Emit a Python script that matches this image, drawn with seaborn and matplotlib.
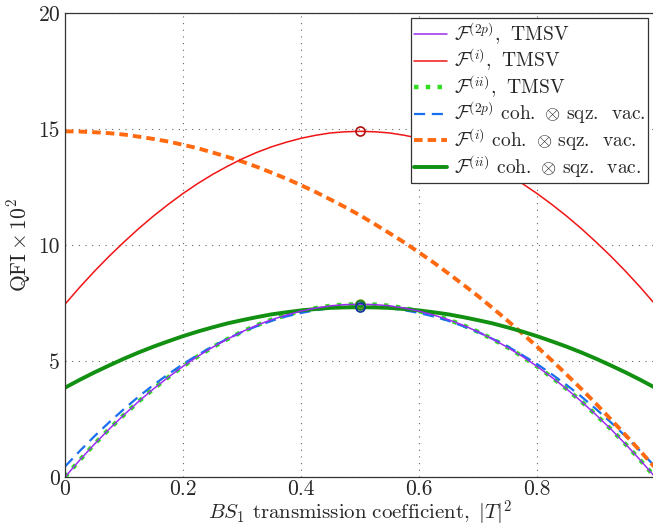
import matplotlib
matplotlib.use("Agg")
import matplotlib.pyplot as plt
import seaborn as sns
import pandas as pd
from matplotlib.lines import Line2D

# ---- data ----
T2 = [0.000, 0.025, 0.050, 0.075, 0.100, 0.125, 0.150, 0.175, 0.200, 0.225,
      0.250, 0.275, 0.300, 0.325, 0.350, 0.375, 0.400, 0.425, 0.450, 0.475,
      0.500, 0.525, 0.550, 0.575, 0.600, 0.625, 0.650, 0.675, 0.700, 0.725,
      0.750, 0.775, 0.800, 0.825, 0.850, 0.875, 0.900, 0.925, 0.950, 0.975, 1.000]
F2p_tmsv = [0.00, 0.73, 1.42, 2.07, 2.68, 3.26, 3.80, 4.30, 4.77, 5.20,
            5.59, 5.94, 6.26, 6.54, 6.78, 6.98, 7.15, 7.28, 7.38, 7.43,
            7.45, 7.43, 7.38, 7.28, 7.15, 6.98, 6.78, 6.54, 6.26, 5.94,
            5.59, 5.20, 4.77, 4.30, 3.80, 3.26, 2.68, 2.07, 1.42, 0.73, 0.00]
Fi_tmsv = [7.45, 8.18, 8.87, 9.52, 10.13, 10.71, 11.25, 11.75, 12.22, 12.65,
           13.04, 13.39, 13.71, 13.99, 14.23, 14.43, 14.60, 14.73, 14.83, 14.88,
           14.90, 14.88, 14.83, 14.73, 14.60, 14.43, 14.23, 13.99, 13.71, 13.39,
           13.04, 12.65, 12.22, 11.75, 11.25, 10.71, 10.13, 9.52, 8.87, 8.18, 7.45]
Fii_tmsv = [0.00, 0.73, 1.42, 2.07, 2.68, 3.26, 3.80, 4.30, 4.77, 5.20,
            5.59, 5.94, 6.26, 6.54, 6.78, 6.98, 7.15, 7.28, 7.38, 7.43,
            7.45, 7.43, 7.38, 7.28, 7.15, 6.98, 6.78, 6.54, 6.26, 5.94,
            5.59, 5.20, 4.77, 4.30, 3.80, 3.26, 2.68, 2.07, 1.42, 0.73, 0.00]
F2p_coh = [0.45, 1.12, 1.76, 2.36, 2.93, 3.47, 3.97, 4.43, 4.87, 5.26,
           5.63, 5.95, 6.25, 6.50, 6.73, 6.92, 7.07, 7.19, 7.28, 7.33,
           7.35, 7.33, 7.28, 7.19, 7.07, 6.92, 6.73, 6.50, 6.25, 5.95,
           5.63, 5.26, 4.87, 4.43, 3.97, 3.47, 2.93, 2.36, 1.76, 1.12, 0.45]
Fi_coh = [14.90, 14.89, 14.86, 14.82, 14.76, 14.67, 14.57, 14.46, 14.32, 14.17,
          13.99, 13.80, 13.60, 13.37, 13.12, 12.86, 12.58, 12.28, 11.96, 11.63,
          11.28, 10.90, 10.51, 10.11, 9.68, 9.24, 8.77, 8.29, 7.80, 7.28,
          6.74, 6.19, 5.62, 5.03, 4.42, 3.80, 3.16, 2.49, 1.81, 1.12, 0.40]
Fii_coh = [3.85, 4.19, 4.51, 4.81, 5.10, 5.37, 5.62, 5.85, 6.07, 6.27,
           6.45, 6.62, 6.76, 6.89, 7.01, 7.10, 7.18, 7.24, 7.29, 7.31,
           7.32, 7.31, 7.29, 7.24, 7.18, 7.10, 7.01, 6.89, 6.76, 6.62,
           6.45, 6.27, 6.07, 5.85, 5.62, 5.37, 5.10, 4.81, 4.51, 4.19, 3.85]

labels = [r'$\mathcal{F}^{(2p)}$, $\;\mathrm{TMSV}$',
          r'$\mathcal{F}^{(i)}$, $\;\mathrm{TMSV}$',
          r'$\mathcal{F}^{(ii)}$, $\;\mathrm{TMSV}$',
          r'$\mathcal{F}^{(2p)}$ $\mathrm{coh.}\,\otimes\,\mathrm{sqz.\;\;vac.}$',
          r'$\mathcal{F}^{(i)}$ $\mathrm{coh.}\,\otimes\,\mathrm{sqz.\;\;vac.}$',
          r'$\mathcal{F}^{(ii)}$ $\mathrm{coh.}\,\otimes\,\mathrm{sqz.\;\;vac.}$']

peak_x = [0.5, 0.5, 0.5, 0.5]
peak_y = [14.90, 7.45, 7.40, 7.33]

# ---- style ----
sns.set_style("white")
plt.rcParams['font.family'] = ['cmr10', 'DejaVu Serif']
plt.rcParams['mathtext.fontset'] = 'cm'
plt.rcParams['axes.formatter.use_mathtext'] = True

df = pd.DataFrame({'T2': T2, 'F2p_tmsv': F2p_tmsv, 'Fi_tmsv': Fi_tmsv,
                   'Fii_tmsv': Fii_tmsv, 'F2p_coh': F2p_coh,
                   'Fi_coh': Fi_coh, 'Fii_coh': Fii_coh})

fig = plt.figure(figsize=(6.53, 5.28), dpi=100)
ax = fig.add_axes([65/653, (528-477)/528, 590/653, 464/528])

specs = [
    ('Fii_tmsv', '#33dd22', ':', 3.2),
    ('F2p_coh', '#1a6ff0', (0, (5, 3)), 1.6),
    ('Fi_coh', '#ff6a10', (0, (2.2, 1.3)), 2.8),
    ('Fii_coh', '#119011', '-', 2.8),
    ('Fi_tmsv', '#f01414', '-', 1.1),
    ('F2p_tmsv', '#9a2cf0', '-', 1.1),
]
for col, c, ls, lw in specs:
    sns.lineplot(data=df, x='T2', y=col, color=c, linestyle=ls, linewidth=lw,
                 ax=ax, legend=False)

# peak markers
mcols = ['#b01010', '#88aa33', '#117722', '#1030a0']
for xx, yy, mc in zip(peak_x, peak_y, mcols):
    ax.plot([xx], [yy], marker='o', ms=6.5, mfc='none', mec=mc, mew=1.2, zorder=5)

ax.set_xlim(0, 1)
ax.set_ylim(0, 20)
ax.set_xticks([0, 0.2, 0.4, 0.6, 0.8])
ax.set_xticklabels(['0', '0.2', '0.4', '0.6', '0.8'])
ax.set_yticks([0, 5, 10, 15, 20])
ax.set_yticklabels(['0', '5', '10', '15', '20'])
ax.tick_params(direction='in', length=5, labelsize=15.5, width=0.8)
ax.tick_params(axis='x', pad=2)
ax.grid(True, linestyle=(0, (1, 5)), color='#666666', linewidth=0.8)
for s in ax.spines.values():
    s.set_color('#333333')
    s.set_linewidth(0.9)

ax.set_xlabel(r'$BS_1$ $\mathrm{transmission\ coefficient,}\ |T|^2$', fontsize=15, labelpad=0)
ax.set_ylabel(r'$\mathrm{QFI}\times 10^2$', fontsize=15.5, labelpad=4)
ax.xaxis.set_label_coords(0.5, -0.047)

handles = [
    Line2D([], [], color='#9a2cf0', lw=1.1),
    Line2D([], [], color='#f01414', lw=1.1),
    Line2D([], [], color='#33dd22', ls=':', lw=3.2),
    Line2D([], [], color='#1a6ff0', ls=(0, (5, 3)), lw=1.6),
    Line2D([], [], color='#ff6a10', ls=(0, (2.2, 1.3)), lw=2.8),
    Line2D([], [], color='#119011', ls='-', lw=2.8),
]
leg = ax.legend(handles, labels, loc='upper right', bbox_to_anchor=(0.988, 0.99),
                borderaxespad=0, fontsize=14, handlelength=1.7, handletextpad=0.35,
                labelspacing=0.0, borderpad=0.15, fancybox=False, framealpha=1,
                edgecolor='#333333')
leg.get_frame().set_linewidth(0.9)

fig.savefig('out.png', dpi=100)
